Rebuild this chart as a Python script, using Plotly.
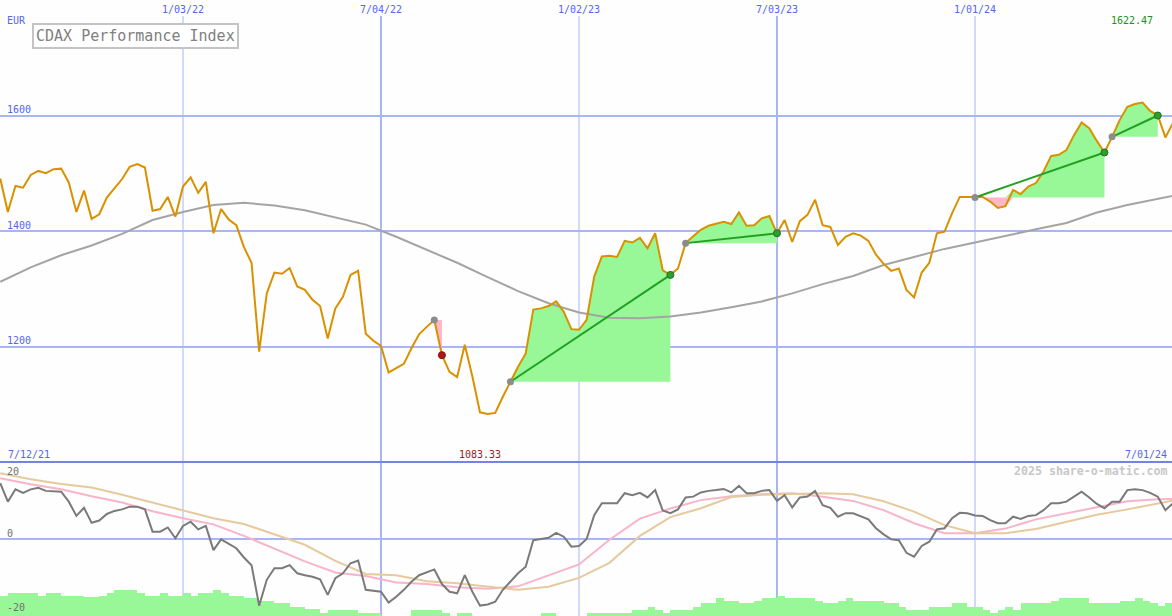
import pandas as pd
import plotly.graph_objects as go

# ---------------- data (weekly) ----------------
start_date = "2021-07-19"

price = [1491, 1433, 1478, 1475, 1497, 1504, 1500, 1507, 1508, 1484,
         1433, 1470, 1421, 1429, 1458, 1474, 1490, 1511, 1516, 1510,
         1435, 1438, 1459, 1425, 1477, 1493, 1466, 1485, 1396, 1438,
         1420, 1410, 1372, 1345, 1191, 1292, 1328, 1326, 1336, 1304,
         1298, 1281, 1270, 1214, 1266, 1286, 1324, 1331, 1222, 1210,
         1201, 1155, 1162, 1170, 1197, 1221, 1234, 1246, 1185, 1156,
         1147, 1203, 1148, 1086, 1083.33, 1085, 1113, 1139, 1165, 1188,
         1264, 1266, 1270, 1278, 1260, 1230, 1229, 1246, 1321, 1356,
         1357, 1355, 1383, 1380, 1388, 1370, 1396, 1332, 1324, 1335,
         1379, 1391, 1402, 1409, 1412, 1416, 1412, 1432, 1409, 1410,
         1422, 1426, 1396, 1419, 1381, 1417, 1428, 1454, 1410, 1407,
         1376, 1390, 1396, 1392, 1383, 1359, 1343, 1331, 1335, 1298,
         1285, 1328, 1345, 1396, 1399, 1431, 1459, 1459, 1458, 1459,
         1451, 1440, 1443, 1471, 1464, 1477, 1483, 1503, 1530, 1532,
         1540, 1566, 1588, 1578, 1556, 1536, 1563, 1592, 1615, 1620,
         1622.47, 1608, 1600, 1562, 1587]

# moving average, sampled every 4 weeks (+ last week)
ma_values = [1312, 1337, 1358, 1375, 1395, 1419, 1433, 1445, 1449, 1444,
             1436, 1423, 1411, 1390, 1368, 1345, 1320, 1296, 1275, 1259,
             1250, 1249, 1252, 1259, 1268, 1278, 1292, 1308, 1322, 1341,
             1355, 1369, 1380, 1392, 1403, 1414, 1432, 1445, 1455, 1461]

# oscillator (lower panel, dark grey line), weekly
osc = [14.5, 9.7, 12.9, 12.0, 12.9, 13.3, 12.5, 12.4, 12.3, 9.7,
       6.0, 8.1, 4.2, 4.8, 6.5, 7.3, 7.7, 8.4, 8.4, 7.7,
       1.9, 1.9, 3.0, 0.2, 3.4, 4.5, 2.5, 3.4, -2.9, -0.1,
       -1.3, -2.4, -4.8, -6.8, -17.3, -10.6, -7.6, -7.6, -6.8, -8.9,
       -9.4, -9.8, -10.5, -14.5, -10.2, -8.9, -6.3, -5.6, -13.2, -13.4,
       -13.7, -16.5, -15.0, -13.2, -11.1, -9.4, -8.6, -7.9, -11.7, -13.7,
       -14.1, -9.4, -13.7, -17.3, -17.0, -16.3, -13.2, -11.1, -8.9, -7.2,
       -0.3, 0.0, 0.3, 1.6, 0.6, -2.0, -1.8, 0.0, 6.2, 9.3,
       9.3, 9.3, 11.9, 11.4, 12.0, 10.8, 12.7, 7.4, 6.7, 7.7,
       10.8, 11.0, 12.1, 12.5, 12.7, 13.0, 12.1, 13.8, 11.9, 11.9,
       12.5, 12.7, 9.9, 11.4, 8.2, 10.8, 11.0, 12.5, 8.8, 8.1,
       5.8, 6.7, 6.7, 5.8, 5.1, 2.8, 1.2, -0.1, -0.3, -3.6,
       -4.6, -1.8, -0.7, 2.5, 2.8, 5.4, 6.8, 6.7, 6.1, 6.0,
       4.9, 4.1, 4.1, 5.8, 5.2, 6.0, 6.2, 7.5, 9.3, 9.3,
       9.7, 11.0, 12.3, 10.8, 9.1, 8.0, 9.7, 9.7, 12.7, 12.9,
       12.7, 12.0, 11.0, 7.5, 9.3]

# smooth signal lines (lower panel), sampled every 4 weeks (+ last week)
pink_values = [15.8, 14.2, 12.9, 11.1, 9.5, 7.2, 5.4, 3.8, 0.8, -2.4,
               -5.8, -8.7, -9.6, -11.3, -11.7, -12.5, -12.9, -12.3, -9.5, -6.6,
               -0.2, 5.3, 7.9, 10.1, 11.1, 11.6, 11.9, 11.0, 9.9, 7.5,
               4.1, 1.5, 1.5, 2.7, 5.1, 6.6, 8.2, 9.8, 10.3, 10.4]
tan_values = [17.1, 15.5, 14.3, 13.4, 11.5, 9.5, 7.4, 5.4, 3.9, 1.1,
              -1.5, -5.7, -9.1, -9.4, -11.0, -11.5, -12.3, -13.2, -12.4, -10.1,
              -6.2, 0.8, 5.7, 8.0, 10.9, 11.5, 11.7, 11.9, 11.6, 9.8,
              7.1, 3.6, 1.5, 1.5, 2.6, 4.5, 6.3, 7.7, 9.3, 10.0]

# green histogram at the bottom of the lower panel, weekly
bars = [5.2, 6.1, 6.1, 6.1, 6.1, 5.2, 6.1, 6.1, 5.2, 5.2, 5.2,
        4.9, 4.9, 5.2, 5.9, 6.8, 6.8, 6.8, 5.9, 5.2, 5.2,
        6.1, 5.2, 5.2, 6.1, 5.2, 6.1, 6.1, 6.8, 6.1, 5.2,
        5.2, 4.6, 4.6, 3.9, 3.9, 3.3, 3.3, 2.4, 2.4, 1.7,
        1.7, 0.9, 1.6, 1.6, 1.6, 1.6, 0.9, 0.9, 0.9, 0,
        0, 0, 0, 1.6, 1.6, 1.6, 1.6, 0.9, 0, 0.9,
        0.9, 0, 0, 0, 0, 0, 0, 0, 0, 0,
        0.9, 0.9, 0, 0, 0, 0, 0.9, 0.9, 0.9, 0.9,
        0.9, 0.9, 1.6, 1.6, 2.4, 1.6, 0.9, 1.6, 1.6, 1.6,
        2.4, 3.3, 3.3, 4.8, 3.9, 3.9, 3.3, 3.3, 3.9, 4.8,
        4.8, 5.2, 4.8, 4.8, 4.8, 4.8, 3.9, 3.3, 3.3, 3.9,
        4.8, 3.9, 3.9, 3.9, 3.9, 3.3, 3.3, 2.4, 1.6, 1.6,
        1.6, 2.4, 2.4, 2.4, 3.3, 3.3, 2.4, 2.4, 1.6, 0.9,
        1.6, 2.4, 1.6, 3.3, 3.3, 3.3, 3.3, 3.9, 4.8, 4.8,
        4.8, 4.8, 3.3, 3.3, 3.3, 3.3, 3.9, 3.9, 4.8, 3.9,
        3.3, 2.6, 3.3, 3.3]

# trades (entry / exit weeks)
trade_entry = ["2022-08-22", "2022-10-31", "2023-04-10", "2024-01-01", "2024-05-06"]
trade_exit = ["2022-08-29", "2023-03-27", "2023-07-03", "2024-04-29", "2024-06-17"]

# axis labels
tick_dates = ["2022-01-03", "2022-07-04", "2023-01-02", "2023-07-03", "2024-01-01"]
tick_labels = ["1/03/22", "7/04/22", "1/02/23", "7/03/23", "1/01/24"]
tick_widths = [1, 2, 1, 2, 1]
price_grid = [1200, 1400, 1600]
osc_labels = [20, 0, -20]
title = "CDAX Performance Index"
first_label = "7/12/21"
last_label = "7/01/24"

# ---------------- figure ----------------
W, H = 1172, 616
dates = pd.date_range(start_date, periods=len(price), freq="7D")
sample_idx = list(range(0, len(price), 4)) + [len(price) - 1]
ma_dates = dates[sample_idx]

GRID = "#A8B6F2"
BLUE = "#5466EE"
FONT = "DejaVu Sans Mono"
GREEN_FILL = "#98F898"
PINK_FILL = "#FFB6C8"

fig = go.Figure()

# lower panel
fig.add_trace(go.Bar(x=dates, y=bars, base=-20, width=7 * 24 * 3600 * 1000, offset=0,
                     marker=dict(color=GREEN_FILL, line=dict(width=0)),
                     xaxis="x2", yaxis="y2", hoverinfo="skip"))
fig.add_trace(go.Scatter(x=ma_dates, y=pink_values, mode="lines",
                         line=dict(color="#F8B4C8", width=2), xaxis="x2", yaxis="y2"))
fig.add_trace(go.Scatter(x=ma_dates, y=tan_values, mode="lines",
                         line=dict(color="#E6CA9E", width=2), xaxis="x2", yaxis="y2"))
fig.add_trace(go.Scatter(x=dates, y=osc, mode="lines",
                         line=dict(color="#7A7A7A", width=2), xaxis="x2", yaxis="y2"))

# trade fills (upper panel)
idx_in = [dates.get_loc(pd.Timestamp(d)) for d in trade_entry]
idx_out = [dates.get_loc(pd.Timestamp(d)) for d in trade_exit]
for a, b in zip(idx_in, idx_out):
    lvl = price[a]
    xs = list(dates[a:b + 1])
    seg = price[a:b + 1]
    up = [max(p, lvl) for p in seg]
    dn = [min(p, lvl) for p in seg]
    base = [lvl] * len(seg)
    fig.add_trace(go.Scatter(x=xs + xs[::-1], y=up + base[::-1], fill="toself",
                             fillcolor=GREEN_FILL, line=dict(width=0), mode="lines",
                             hoverinfo="skip"))
    if min(dn) < lvl:
        fig.add_trace(go.Scatter(x=xs + xs[::-1], y=dn + base[::-1], fill="toself",
                                 fillcolor=PINK_FILL, line=dict(width=0), mode="lines",
                                 hoverinfo="skip"))

# moving average and price
fig.add_trace(go.Scatter(x=ma_dates, y=ma_values, mode="lines",
                         line=dict(color="#A4A4A4", width=2)))
fig.add_trace(go.Scatter(x=dates, y=price, mode="lines",
                         line=dict(color="#DA9100", width=2)))

# trade lines and markers
for a, b in zip(idx_in, idx_out):
    win = price[b] > price[a]
    if win:
        fig.add_trace(go.Scatter(x=[dates[a], dates[b]], y=[price[a], price[b]], mode="lines",
                                 line=dict(color="#22A022", width=2)))
    fig.add_trace(go.Scatter(x=[dates[a]], y=[price[a]], mode="markers",
                             marker=dict(color="#8C8C8C", size=7)))
    fig.add_trace(go.Scatter(x=[dates[b]], y=[price[b]], mode="markers",
                             marker=dict(color="#2E9E2E" if win else "#B01818", size=7,
                                         line=dict(color="#207020" if win else "#801010", width=1))))

xr = ["2021-07-18 18:45", "2024-06-30 02:00"]
axis_common = dict(range=xr, showticklabels=False, showgrid=False, zeroline=False,
                   showline=False, ticks="", domain=[0, 1])

shapes = []
for d, w in zip(tick_dates, tick_widths):
    shapes.append(dict(type="line", xref="x", yref="paper", x0=d, x1=d, y0=0,
                       y1=1 - 16 / H, line=dict(color=GRID, width=w), layer="below"))
shapes.append(dict(type="line", xref="paper", yref="paper", x0=0, x1=1, y0=0.25, y1=0.25,
                   line=dict(color="#7484E6", width=2)))

ann = []
for d, t in zip(tick_dates, tick_labels):
    ann.append(dict(x=d, xref="x", y=1 - 9 / H, yref="paper", text=t, showarrow=False,
                    xanchor="center", yanchor="middle", font=dict(family=FONT, size=10, color=BLUE)))
for v in price_grid:
    ann.append(dict(x=5 / W, xref="paper", y=v, yref="y", yshift=6, text=str(v), showarrow=False,
                    xanchor="left", yanchor="middle", font=dict(family=FONT, size=10, color=BLUE)))
for v, ypx in zip(osc_labels, [471.5, 533, 607.5]):
    ann.append(dict(x=5 / W, xref="paper", y=1 - ypx / H, yref="paper", text=str(v),
                    showarrow=False, xanchor="left", yanchor="middle",
                    font=dict(family=FONT, size=10, color="#707070")))
ann.append(dict(x=5 / W, xref="paper", y=1 - 21 / H, yref="paper", text="EUR", showarrow=False,
                xanchor="left", yanchor="middle", font=dict(family=FONT, size=10, color=BLUE)))
ann.append(dict(x=1155 / W, xref="paper", y=1 - 21 / H, yref="paper", text=f"{max(price):.2f}",
                showarrow=False, xanchor="right", yanchor="middle",
                font=dict(family=FONT, size=10, color="#209020")))
ann.append(dict(x=6 / W, xref="paper", y=1 - 454 / H, yref="paper", text=first_label,
                showarrow=False, xanchor="left", yanchor="middle",
                font=dict(family=FONT, size=10, color=BLUE)))
ann.append(dict(x=457 / W, xref="paper", y=1 - 454 / H, yref="paper", text=f"{min(price):.2f}",
                showarrow=False, xanchor="left", yanchor="middle",
                font=dict(family=FONT, size=10, color="#A01C1C")))
ann.append(dict(x=1169 / W, xref="paper", y=1 - 454 / H, yref="paper", text=last_label,
                showarrow=False, xanchor="right", yanchor="middle",
                font=dict(family=FONT, size=10, color=BLUE)))
ann.append(dict(x=1170 / W, xref="paper", y=1 - 471 / H, yref="paper",
                text="<b>2025 share-o-matic.com</b>", showarrow=False, xanchor="right",
                yanchor="middle", font=dict(family=FONT, size=11.6, color="#C8C8C8")))
ann.append(dict(x=32 / W, xref="paper", y=1 - 36 / H, yref="paper", text=title, showarrow=False,
                xanchor="left", yanchor="middle", bgcolor="#FFFFFF", bordercolor="#C4C4C4",
                borderwidth=2, borderpad=2, font=dict(family=FONT, size=15, color="#808080")))

fig.update_layout(
    width=W, height=H, margin=dict(l=0, r=0, t=0, b=0),
    paper_bgcolor="#FDFEFD", plot_bgcolor="#FDFEFD",
    showlegend=False, bargap=0, hovermode=False,
    xaxis=dict(anchor="y", **axis_common),
    xaxis2=dict(anchor="y2", matches="x", **axis_common),
    yaxis=dict(domain=[0.25, 1], range=[1000, 1800], tickvals=price_grid, showticklabels=False,
               showgrid=True, gridcolor=GRID, gridwidth=2, zeroline=False, ticks=""),
    yaxis2=dict(domain=[0, 0.25], range=[-20, 20], tickvals=[0], showticklabels=False,
                showgrid=True, gridcolor=GRID, gridwidth=2, zeroline=False, ticks=""),
    shapes=shapes, annotations=ann,
)

fig.write_html("out.html",
               config={"displayModeBar": False, "staticPlot": True},
               post_script="document.body.style.margin='0px';"
                           "document.body.style.padding='0px';"
                           "document.body.style.overflow='hidden';")
